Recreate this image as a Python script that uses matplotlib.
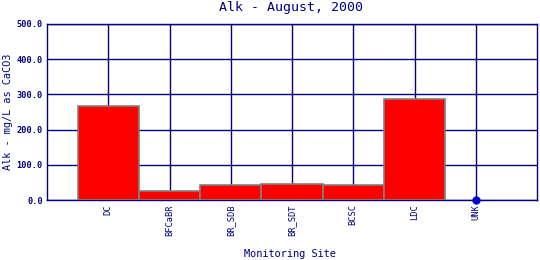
import matplotlib
matplotlib.use("Agg")
import matplotlib.pyplot as plt
import numpy as np

sites = ["DC", "BFCaBR", "BR_SDB", "BR_SDT", "BCSC", "LDC", "UNK"]
alk = [267, 25, 44, 45, 42, 287, 0]
yticks = [0, 100, 200, 300, 400, 500]

navy = "#000080"
plt.rcParams['font.family'] = ['DejaVu Sans Mono']

W, H = 540, 260
fig = plt.figure(figsize=(5.4, 2.6), dpi=100)
ax = fig.add_axes([47/W, 60/H, 490/W, 176/H])

x = np.arange(len(sites))
bar_sites = x[:-1]
ax.bar(bar_sites, alk[:-1], width=1.0, color="#ff0000", edgecolor="#808080", linewidth=1.2, zorder=3)
ax.plot([x[-1]], [alk[-1]], 'o', color="#0000cc", markersize=5, zorder=4, clip_on=False)

ax.set_xlim(-1, 7)
ax.set_ylim(0, 500)
ax.set_xticks(x)
ax.set_xticklabels(sites, rotation=90, fontsize=6.2, color=navy)
ax.set_yticks(yticks)
ax.set_yticklabels([f"{v:.1f}" for v in yticks], fontsize=6.2, color=navy, fontweight='bold')
ax.tick_params(length=0, pad=3)
ax.grid(True, color=navy, linewidth=1.0, zorder=0)
ax.set_axisbelow(True)
for s in ax.spines.values():
    s.set_color(navy)
    s.set_linewidth(1.0)

fig.text(291/W, 1 - 8/H, "Alk - August, 2000", color=navy, fontsize=9.5, ha='center', va='center')
fig.text(8/W, 1 - 112/H, "Alk - mg/L as CaCO3", color=navy, fontsize=7.4, ha='center', va='center', rotation=90)
fig.text(290/W, 1 - 254/H, "Monitoring Site", color=navy, fontsize=7.4, ha='center', va='center')

fig.savefig("out.png", dpi=100)
